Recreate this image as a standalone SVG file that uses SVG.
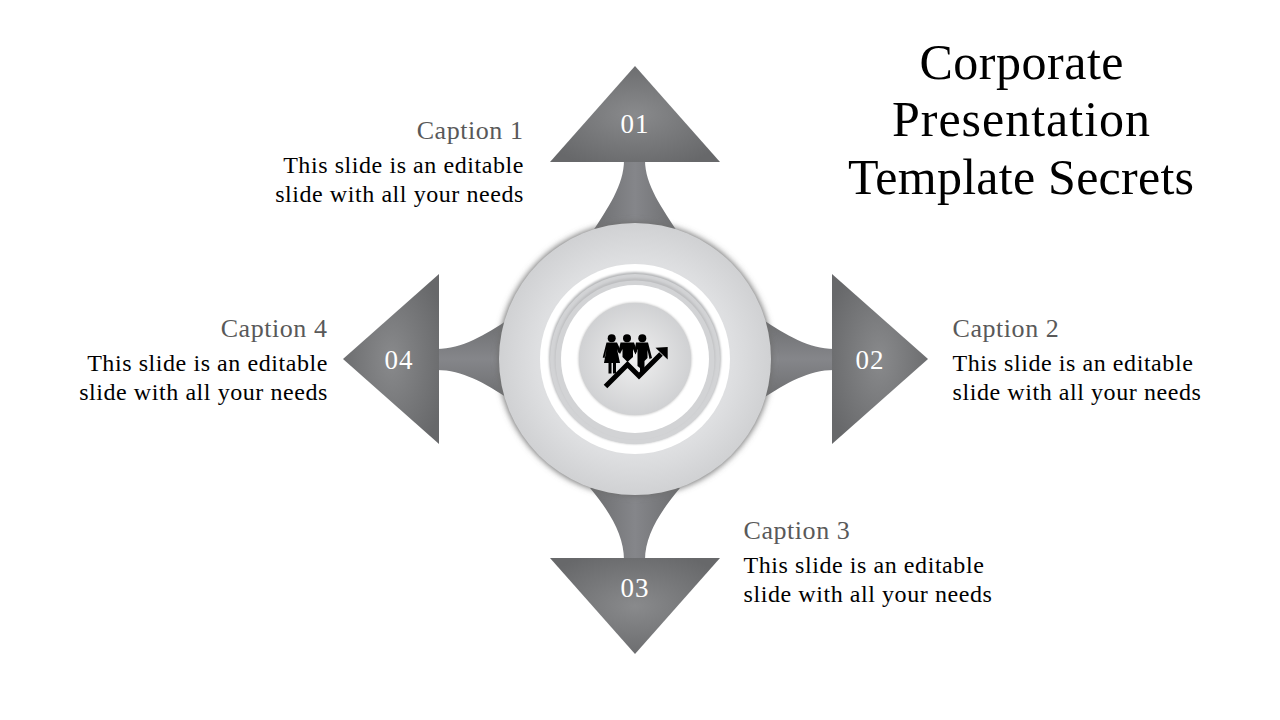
<svg xmlns="http://www.w3.org/2000/svg" width="1280" height="720" viewBox="0 0 1280 720">
<style>
text{font-family:"Liberation Serif","DejaVu Serif",serif}
.title{font-size:50px;fill:#000;text-anchor:middle}
.cap{font-size:26px;fill:#595959;letter-spacing:.55px}
.body{font-size:24px;fill:#000;letter-spacing:.57px}
.end{text-anchor:end}
.num{font-size:27px;fill:#fff;text-anchor:middle;letter-spacing:1px}
.arm{fill:url(#armG)}
</style>
<defs>
<radialGradient id="armG" cx="50%" cy="50%" r="60%"><stop offset="0" stop-color="#898a8c"/><stop offset="1" stop-color="#67686a"/></radialGradient>
<linearGradient id="stemV" x1="0" y1="0" x2="1" y2="0"><stop offset="0" stop-color="#6c6d6f"/><stop offset=".5" stop-color="#85868a"/><stop offset="1" stop-color="#6c6d6f"/></linearGradient>
<linearGradient id="stemH" x1="0" y1="0" x2="0" y2="1"><stop offset="0" stop-color="#6c6d6f"/><stop offset=".5" stop-color="#85868a"/><stop offset="1" stop-color="#6c6d6f"/></linearGradient>
<radialGradient id="disc" cx="50%" cy="50%" r="50%"><stop offset="0" stop-color="#f0f0f0"/><stop offset="1" stop-color="#d0d1d3"/></radialGradient>
<radialGradient id="outer" cx="50%" cy="50%" r="50%"><stop offset="0" stop-color="#e6e6e7"/><stop offset=".72" stop-color="#dedfe1"/><stop offset="1" stop-color="#d0d1d3"/></radialGradient>
<filter id="sh" x="-15%" y="-15%" width="130%" height="130%"><feGaussianBlur stdDeviation="3"/></filter>
<filter id="shs" x="-15%" y="-15%" width="130%" height="130%"><feGaussianBlur stdDeviation="1.2"/></filter>
</defs>
<g id="connectors">
<path fill="url(#stemV)" d="M624 160C624 185 608 208 591 234H679C662 208 645 185 645 160Z"/>
<path fill="url(#stemH)" d="M834 349C809 349 786 335 762 319V399C786 383 809 370 834 370Z"/>
<path fill="url(#stemV)" d="M624 560C624 535 610 512 590 488H680C660 512 645 535 645 560Z"/>
<path fill="url(#stemH)" d="M437 349C462 349 485 335 509 319V399C485 383 462 370 437 370Z"/>
</g>
<g id="node-01"><polygon class="arm" points="635,66 720,162 550,162"/><text class="num" x="635" y="132.500">01</text></g>
<g id="node-02"><polygon class="arm" points="832,274 928,359 832,444"/><text class="num" x="870" y="369">02</text></g>
<g id="node-03"><polygon class="arm" points="550,558 720,558 635,654"/><text class="num" x="635" y="596.500">03</text></g>
<g id="node-04"><polygon class="arm" points="439,274 439,444 343,359"/><text class="num" x="399" y="368.500">04</text></g>
<g id="hub">
<circle cx="635" cy="359" r="137" fill="#707070" filter="url(#sh)"/>
<circle cx="635" cy="359" r="136" fill="url(#outer)"/>
<circle cx="635" cy="359" r="95" fill="#fff"/>
<circle cx="635" cy="358" r="86" fill="#b4b5b7" filter="url(#shs)"/>
<circle cx="635" cy="359" r="85" fill="#d2d3d5"/>
<circle cx="635" cy="358" r="80" fill="#bdbec0" filter="url(#shs)"/>
<circle cx="635" cy="360" r="79.500" fill="#d2d3d5"/>
<circle cx="635" cy="359" r="74" fill="#fff"/>
<circle cx="635" cy="359" r="56.500" fill="#c4c4c4" filter="url(#shs)"/>
<circle cx="635" cy="359" r="56" fill="url(#disc)"/>
</g>
<g id="icon" fill="#000">
<circle cx="611.7" cy="338.300" r="4"/><circle cx="627" cy="338.300" r="4"/><circle cx="642.300" cy="338.300" r="4"/>
<path d="M606.500 342.500H617L620.500 350L618.500 353L617 349L620 363H616V373.500H613V363H611.500V373.500H608.500V363H604L606.500 349L604.500 358L602.700 357.500Z"/>
<path d="M620.500 342.500H634L637 351L635.500 354.500L633 349V357L627.500 362L622.500 357V349L620 354L618.500 352Z"/>
<path d="M636 342.500H648L652 358L649.500 359L647.500 350V358L644.500 361V371L641 374H640V368L637.500 366V349L635.500 354L634.500 351Z"/>
<path d="M605.500 386.500L627.500 364.500L639 376L661 354" fill="none" stroke="#000" stroke-width="5"/>
<polygon points="655.500,347.800 667.700,347 667.700,359.500"/>
</g>
<g id="title">
<text class="title" x="1021.500" y="79" textLength="204">Corporate</text>
<text class="title" x="1021" y="136" textLength="258">Presentation</text>
<text class="title" x="1021" y="194" textLength="346">Template Secrets</text>
</g>
<g id="caption-1">
<text class="cap end" x="523.500" y="139">Caption 1</text>
<text class="body end" x="524" y="173">This slide is an editable</text>
<text class="body end" x="524" y="202">slide with all your needs</text>
</g>
<g id="caption-2">
<text class="cap" x="952.500" y="337">Caption 2</text>
<text class="body" x="952.500" y="371">This slide is an editable</text>
<text class="body" x="952.500" y="400">slide with all your needs</text>
</g>
<g id="caption-3">
<text class="cap" x="743.500" y="539">Caption 3</text>
<text class="body" x="743.500" y="573">This slide is an editable</text>
<text class="body" x="743.500" y="602">slide with all your needs</text>
</g>
<g id="caption-4">
<text class="cap end" x="327.500" y="337">Caption 4</text>
<text class="body end" x="328" y="371">This slide is an editable</text>
<text class="body end" x="328" y="400">slide with all your needs</text>
</g>
</svg>
